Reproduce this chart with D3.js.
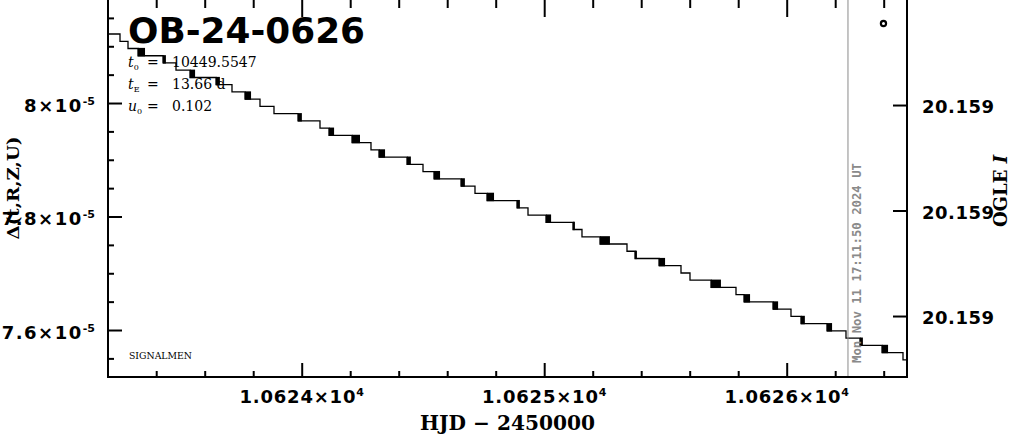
<!DOCTYPE html>
<html><head><meta charset="utf-8">
<script src="https://cdn.jsdelivr.net/npm/d3@7"></script>
<style>html,body{margin:0;padding:0;background:#fff;overflow:hidden}</style>
</head><body>
<svg id="c" width="1011" height="434"></svg>
<script>
// ---- data ----
const stepTimes = [10623.2507,10623.2837,10623.3249,10623.4280,10623.4816,10623.5393,10623.6466,10623.7125,10623.7661,10623.8280,
  10623.8857,10623.9847,10624.0754,10624.1125,10624.2074,10624.2857,10624.3187,10624.4342,10624.5002,10624.5455,
  10624.6569,10624.7146,10624.7641,10624.8878,10624.9332,10625.0074,10625.1187,10625.1558,10625.2301,10625.3414,
  10625.3744,10625.4734,10625.5641,10625.6012,10625.6878,10625.7909,10625.8239,10625.9435,10626.0177,10626.0589,
  10626.1661,10626.2445,10626.3022,10626.3930,10626.4796];
const stepLevels = [8.1216e-5,8.1088e-5,8.0961e-5,8.0833e-5,8.0706e-5,8.0578e-5,8.0450e-5,8.0323e-5,8.0195e-5,8.0068e-5,
  7.9940e-5,7.9812e-5,7.9685e-5,7.9557e-5,7.9430e-5,7.9302e-5,7.9174e-5,7.9047e-5,7.8919e-5,7.8792e-5,
  7.8664e-5,7.8536e-5,7.8409e-5,7.8281e-5,7.8154e-5,7.8026e-5,7.7898e-5,7.7771e-5,7.7643e-5,7.7516e-5,
  7.7388e-5,7.7260e-5,7.7133e-5,7.7005e-5,7.6878e-5,7.6750e-5,7.6622e-5,7.6495e-5,7.6367e-5,7.6240e-5,
  7.6112e-5,7.5984e-5,7.5857e-5,7.5729e-5,7.5602e-5,7.5474e-5];
const clusterWidths = [0,0,0.029,0.012,0,0.021,0.016,0,0.025,0,
  0,0.016,0,0.021,0.033,0,0.025,0.016,0,0.025,
  0.016,0,0.029,0.012,0,0.021,0.008,0,0.041,0,
  0.008,0.025,0,0,0.041,0,0.025,0.021,0,0.016,
  0.021,0,0.012,0.025,0];
const ogleTimes = [10626.3991];
const ogleDeltas = [8.1401e-5];
const nowTime = 10626.2527;
const nowLabel = "Mon Nov 11 17:11:50 2024 UT";

const xDomain = [10623.2012, 10626.4961];
const yDomain = [7.5172e-5, 8.1833e-5];
const magDomain = [20.158599, 20.1593156];

const xMajorTicks = [10624, 10625, 10626];
const xTickMantissas = ["1.0624", "1.0625", "1.0626"];
const xTickExponent = "4";
const xMinorTicks = [10623.4,10623.6,10623.8,10624.2,10624.4,10624.6,10624.8,10625.2,10625.4,10625.6,10625.8,10626.2,10626.4];
const yMajorTicks = [7.6e-5, 7.8e-5, 8.0e-5];
const yTickMantissas = ["7.6", "7.8", "8"];
const yTickExponent = "-5";
const yMinorTicks = [7.55e-5,7.65e-5,7.7e-5,7.75e-5,7.85e-5,7.9e-5,7.95e-5,8.05e-5,8.1e-5,8.15e-5];
const magTicks = [20.1588, 20.1590, 20.1592];

const titleText = "OB-24-0626";
const paramSymbols = ["t", "t", "u"];
const paramSubs = ["0", "E", "0"];
const paramValues = ["10449.5547", "13.66 d", "0.102"];
const xTitle = "HJD \u2212 2450000";
const yTitle = "\u0394(t,R,Z,U)";
const rightTitle = ["OGLE ", "I"];
const creditText = "SIGNALMEN";

// ---- layout ----
const L = 108, R = 907, T = -1, B = 377;
const svg = d3.select("#c");
const x = d3.scaleLinear().domain(xDomain).range([L, R]);
const y = d3.scaleLinear().domain(yDomain).range([B, T]);
const yr = d3.scaleLinear().domain(magDomain).range([T, B]);

svg.append("defs").append("clipPath").attr("id", "clip")
  .append("rect").attr("x", L).attr("y", T).attr("width", R - L).attr("height", B - T);
const plot = svg.append("g").attr("clip-path", "url(#clip)");

// curve
const pts = [[xDomain[0], stepLevels[0]]]
  .concat(stepTimes.map((t, i) => [t, stepLevels[i + 1]]))
  .concat([[xDomain[1], stepLevels[stepLevels.length - 1]]]);
const line = d3.line().x(d => x(d[0])).y(d => y(d[1])).curve(d3.curveStepAfter);
plot.append("path").attr("d", line(pts)).attr("fill", "none")
  .attr("stroke", "#000").attr("stroke-width", 1.3);

const clusters = stepTimes.map((t, i) => ({t, w: clusterWidths[i], top: stepLevels[i], bot: stepLevels[i + 1]}))
  .filter(d => d.w > 0);
plot.selectAll("rect.cl").data(clusters).join("rect").attr("class", "cl")
  .attr("x", d => x(d.t)).attr("width", d => x(d.t + d.w) - x(d.t))
  .attr("y", d => y(d.top) - 0.6).attr("height", d => y(d.bot) - y(d.top) + 1.2)
  .attr("fill", "#000");

// OGLE point
plot.selectAll("circle.og").data(ogleTimes).join("circle").attr("class", "og")
  .attr("cx", (d, i) => x(d)).attr("cy", (d, i) => y(ogleDeltas[i])).attr("r", 2.6)
  .attr("fill", "none").attr("stroke", "#000").attr("stroke-width", 2.2);

// now line
svg.append("line").attr("x1", x(nowTime)).attr("x2", x(nowTime)).attr("y1", T).attr("y2", B)
  .attr("stroke", "#8a8a8a").attr("stroke-width", 1);
svg.append("text").attr("transform", `translate(${x(nowTime) + 13},363) rotate(-90)`)
  .attr("font-family", "DejaVu Sans Mono").attr("font-weight", "bold").attr("font-size", 13)
  .attr("fill", "#8a8a8a").attr("textLength", 200).attr("lengthAdjust", "spacingAndGlyphs")
  .text(nowLabel);

// axes (ticks inside)
function ticks(axisGen, tr) {
  const g = svg.append("g").attr("transform", tr).call(axisGen);
  g.select(".domain").remove();
  g.selectAll("line").attr("stroke", "#000").attr("stroke-width", 2);
  g.selectAll("text").remove();
}
ticks(d3.axisBottom(x).tickValues(xMajorTicks).tickSize(-14).tickFormat(""), `translate(0,${B})`);
ticks(d3.axisBottom(x).tickValues(xMinorTicks).tickSize(-6).tickFormat(""), `translate(0,${B})`);
ticks(d3.axisTop(x).tickValues(xMajorTicks).tickSize(-18).tickFormat(""), `translate(0,${T})`);
ticks(d3.axisTop(x).tickValues(xMinorTicks).tickSize(-9).tickFormat(""), `translate(0,${T})`);
ticks(d3.axisLeft(y).tickValues(yMajorTicks).tickSize(-14).tickFormat(""), `translate(${L},0)`);
ticks(d3.axisLeft(y).tickValues(yMinorTicks).tickSize(-6).tickFormat(""), `translate(${L},0)`);
ticks(d3.axisRight(yr).tickValues(magTicks).tickSize(-14).tickFormat(""), `translate(${R},0)`);

// frame
svg.append("rect").attr("x", L).attr("y", T).attr("width", R - L).attr("height", B - T)
  .attr("fill", "none").attr("stroke", "#000").attr("stroke-width", 2);

// tick labels
const tickFont = "DejaVu Sans";
const xl = svg.selectAll("text.xl").data(xMajorTicks).join("text").attr("class", "xl")
  .attr("x", d => x(d)).attr("y", 403).attr("text-anchor", "middle")
  .attr("font-family", tickFont).attr("font-weight", "bold").attr("font-size", 18);
xl.append("tspan").attr("letter-spacing", 0.8).text((d, i) => xTickMantissas[i] + "\u00d710");
xl.append("tspan").attr("dy", -7).attr("font-size", 11).text(xTickExponent);

const yl = svg.selectAll("text.yl").data(yMajorTicks).join("text").attr("class", "yl")
  .attr("x", 95).attr("y", d => y(d) + 8.5).attr("text-anchor", "end")
  .attr("font-family", tickFont).attr("font-weight", "bold").attr("font-size", 18);
yl.append("tspan").attr("letter-spacing", 1.5).text((d, i) => yTickMantissas[i] + "\u00d710");
yl.append("tspan").attr("dy", -7).attr("font-size", 11).text(yTickExponent);

svg.selectAll("text.rl").data(magTicks).join("text").attr("class", "rl")
  .attr("x", 922).attr("y", d => yr(d) + 8).attr("text-anchor", "start")
  .attr("font-family", tickFont).attr("font-weight", "bold").attr("font-size", 18)
  .attr("letter-spacing", 0.5)
  .text(d => d3.format(".3f")(d));

// axis titles
svg.append("text").attr("x", (L + R) / 2).attr("y", 430).attr("text-anchor", "middle")
  .attr("font-family", "DejaVu Serif").attr("font-weight", "bold").attr("font-size", 20)
  .attr("textLength", 175).attr("lengthAdjust", "spacingAndGlyphs").text(xTitle);
svg.append("text").attr("transform", "translate(19,188) rotate(-90)").attr("text-anchor", "middle")
  .attr("font-family", "DejaVu Serif").attr("font-weight", "bold").attr("font-size", 17)
  .attr("textLength", 103).attr("lengthAdjust", "spacingAndGlyphs").text(yTitle);
const rt = svg.append("text").attr("transform", "translate(1007,191) rotate(-90)").attr("text-anchor", "middle")
  .attr("font-family", "DejaVu Serif").attr("font-weight", "bold").attr("font-size", 18);
rt.append("tspan").text(rightTitle[0]);
rt.append("tspan").attr("font-style", "italic").text(rightTitle[1]);

// title & parameters
svg.append("text").attr("x", 128).attr("y", 43)
  .attr("font-family", "DejaVu Sans").attr("font-weight", "bold").attr("font-size", 36)
  .attr("textLength", 237).attr("lengthAdjust", "spacingAndGlyphs").text(titleText);

const paramBase = [67, 89, 111];
paramSymbols.forEach((s, i) => {
  const t = svg.append("text").attr("x", 128).attr("y", paramBase[i])
    .attr("font-family", "DejaVu Serif").attr("font-size", 14);
  t.append("tspan").attr("font-style", "italic").text(s);
  t.append("tspan").attr("dy", 3).attr("font-size", 8).text(paramSubs[i]);
  svg.append("text").attr("x", 147).attr("y", paramBase[i])
    .attr("font-family", "DejaVu Serif").attr("font-size", 14).text("=");
  svg.append("text").attr("x", 172).attr("y", paramBase[i])
    .attr("font-family", "DejaVu Serif").attr("font-size", 14).text(paramValues[i]);
});

svg.append("text").attr("x", 129).attr("y", 359)
  .attr("font-family", "DejaVu Serif").attr("font-size", 8.5)
  .attr("textLength", 63).attr("lengthAdjust", "spacingAndGlyphs").text(creditText);
</script>
</body></html>
